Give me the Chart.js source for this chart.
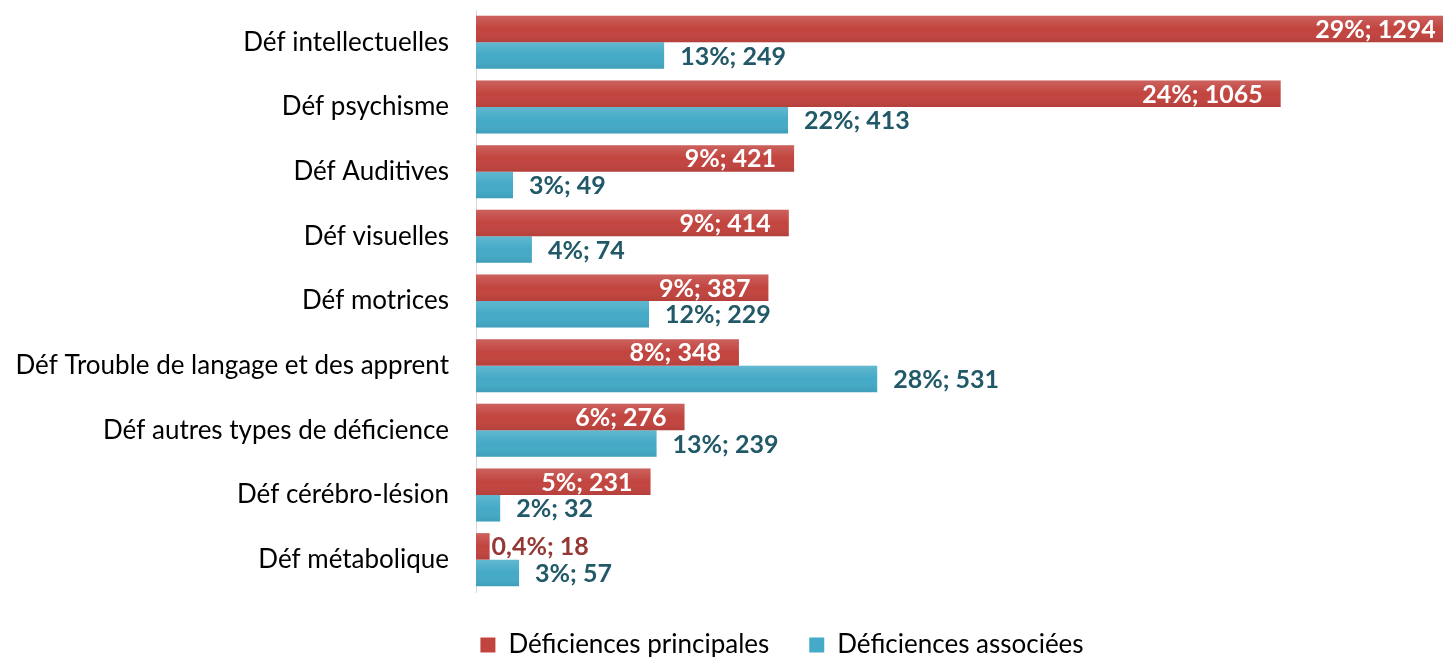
<!DOCTYPE html>
<html>
<head>
<meta charset="utf-8">
<script src="https://cdn.jsdelivr.net/npm/chart.js@4.4.0/dist/chart.umd.min.js"></script>
<style>
    html, body { margin: 0; padding: 0; background: #fff; overflow: hidden; width: 1443px; height: 657px; }
</style>
</head>
<body>
<canvas id="myChart" width="1568" height="657"></canvas>
<script>
// DATA
const categories = [
    'Déf intellectuelles',
    'Déf psychisme',
    'Déf Auditives',
    'Déf visuelles',
    'Déf motrices',
    'Déf Trouble de langage et des apprent',
    'Déf autres types de déficience',
    'Déf cérébro-lésion',
    'Déf métabolique'
];
const principalCounts = [1294, 1065, 421, 414, 387, 348, 276, 231, 18];
const principalPct = ['29%', '24%', '9%', '9%', '9%', '8%', '6%', '5%', '0,4%'];
const associatedCounts = [249, 413, 49, 74, 229, 531, 239, 32, 57];
const associatedPct = ['13%', '22%', '3%', '4%', '12%', '28%', '13%', '2%', '3%'];
const xMax = 1440;

const ctx = document.getElementById('myChart').getContext('2d');

// light shading on each bar, like the office gradient fill
const barShade = {
    id: 'barShade',
    afterDatasetsDraw(chart) {
        const c = chart.ctx;
        c.save();
        chart.data.datasets.forEach((ds, di) => {
            chart.getDatasetMeta(di).data.forEach((bar) => {
                const top = bar.y - bar.height / 2;
                const g = c.createLinearGradient(0, top, 0, top + bar.height);
                g.addColorStop(0, 'rgba(255,255,255,0.16)');
                g.addColorStop(0.5, 'rgba(255,255,255,0)');
                g.addColorStop(1, 'rgba(0,0,0,0.07)');
                c.fillStyle = g;
                c.fillRect(bar.base, top, bar.x - bar.base, bar.height);
            });
        });
        c.restore();
    }
};

// "xx%; n" labels
const barLabels = {
    id: 'barLabels',
    afterDatasetsDraw(chart) {
        const c = chart.ctx;
        c.save();
        c.font = 'bold 25px Lato';
        c.textBaseline = 'middle';
        chart.data.datasets.forEach((ds, di) => {
            chart.getDatasetMeta(di).data.forEach((bar, i) => {
                const text = ds.pct[i] + '; ' + ds.data[i];
                const w = c.measureText(text).width;
                const len = bar.x - bar.base;
                let x;
                if (di === 0 && w + 30 < len) {
                    c.fillStyle = '#ffffff';
                    c.textAlign = 'right';
                    x = bar.x - 18;
                } else if (di === 0) {
                    c.fillStyle = '#953735';
                    c.textAlign = 'left';
                    x = bar.x + 2;
                } else {
                    c.fillStyle = '#215968';
                    c.textAlign = 'left';
                    x = bar.x + 16;
                }
                c.fillText(text, x, bar.y + 1);
            });
        });
        c.restore();
    }
};

const chart = new Chart(ctx, {
    type: 'bar',
    data: {
        labels: categories,
        datasets: [{
            label: 'Déficiences principales',
            data: principalCounts,
            pct: principalPct,
            backgroundColor: '#C2443F',
            borderWidth: 0,
            categoryPercentage: 0.82,
            barPercentage: 1.0
        }, {
            label: 'Déficiences associées',
            data: associatedCounts,
            pct: associatedPct,
            backgroundColor: '#44AAC7',
            borderWidth: 0,
            categoryPercentage: 0.82,
            barPercentage: 1.0
        }]
    },
    options: {
        indexAxis: 'y',
        responsive: false,
        animation: false,
        layout: {
            padding: { top: 10, right: 4, bottom: -11, left: 0 }
        },
        scales: {
            x: {
                display: false,
                min: 0,
                max: xMax
            },
            y: {
                grid: { display: false, drawTicks: false },
                border: { display: true, color: '#D9D9D9', width: 1 },
                ticks: {
                    color: '#000000',
                    padding: 27,
                    font: { family: 'Lato', size: 26 }
                },
                afterFit(scale) {
                    scale.width = 476;
                    scale.paddingTop = 0;
                    scale.paddingBottom = 0;
                }
            }
        },
        plugins: {
            legend: {
                position: 'bottom',
                labels: {
                    boxWidth: 15,
                    boxHeight: 15,
                    padding: 40,
                    color: '#000000',
                    font: { family: 'Lato', size: 26 }
                }
            },
            tooltip: { enabled: false }
        }
    },
    plugins: [barShade, barLabels]
});
</script>
</body>
</html>
